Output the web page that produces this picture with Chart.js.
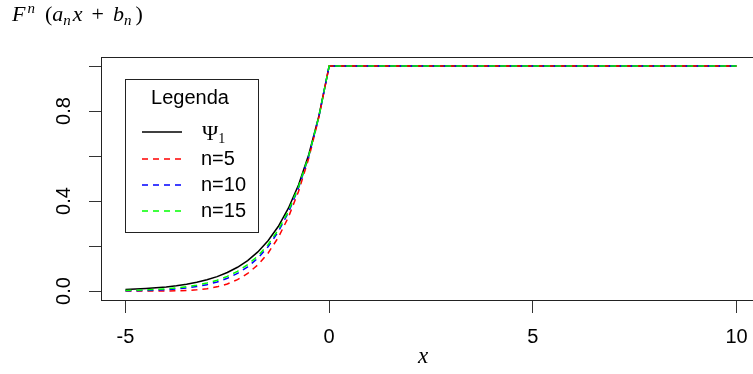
<!DOCTYPE html>
<html>
<head>
<meta charset="utf-8">
<script src="https://cdn.jsdelivr.net/npm/chart.js@4/dist/chart.umd.min.js"></script>
<style>
  html, body { margin: 0; padding: 0; background: #fff; overflow: hidden; }
  #wrap { width: 780px; height: 374px; }
</style>
</head>
<body>
<div id="wrap"><canvas id="c" width="780" height="374"></canvas></div>
<script>
// x positions of the curves
const xs = [-5, -4.75, -4.5, -4.25, -4, -3.75, -3.5, -3.25, -3, -2.75, -2.5,
            -2.25, -2, -1.75, -1.5, -1.25, -1, -0.75, -0.5, -0.25, 0, 10];

const psi1 = [0.0067, 0.0087, 0.0111, 0.0143, 0.0183, 0.0235, 0.0302, 0.0388, 0.0498, 0.0639, 0.0821,
              0.1054, 0.1353, 0.1738, 0.2231, 0.2865, 0.3679, 0.4724, 0.6065, 0.7788, 1, 1];
const n5 = [0, 0, 0.00001, 0.00008, 0.00032, 0.00098, 0.00243, 0.00525, 0.01024, 0.01845, 0.03125,
            0.05033, 0.07776, 0.11603, 0.16807, 0.23731, 0.32768, 0.44371, 0.59049, 0.77378, 1, 1];
const n10 = [0.00098, 0.00159, 0.00253, 0.00395, 0.00605, 0.0091, 0.01346, 0.01964, 0.02825, 0.04012, 0.05631,
             0.07817, 0.10737, 0.14606, 0.19687, 0.26308, 0.34868, 0.45858, 0.59874, 0.77631, 1, 1];
const n15 = [0.00228, 0.00331, 0.00475, 0.00676, 0.00954, 0.01336, 0.01859, 0.02566, 0.03518, 0.04794, 0.06491,
             0.08735, 0.11687, 0.15555, 0.20589, 0.27113, 0.35525, 0.4633, 0.60139, 0.77721, 1, 1];

const xTicks = [-5, 0, 5, 10];
const yTicks = [0, 0.2, 0.4, 0.6, 0.8, 1.0];
const yTickLabels = ['0.0', '', '0.4', '', '0.8', ''];

const seriesNames = ['n=5', 'n=10', 'n=15'];
const seriesColors = ['#ff0000', '#0000ff', '#00ff00'];

const DASH = [6, 5];
const SANS = '"Liberation Sans", Arial, sans-serif';
const SERIF = '"Liberation Serif", "DejaVu Serif", serif';

function pts(ys) {
    return xs.map((x, i) => ({ x: x, y: ys[i] }));
}

// box around plot area, legend, math labels
const extrasPlugin = {
    id: 'extras',
    afterDraw(chart) {
        const ctx = chart.ctx;
        const a = chart.chartArea;
        ctx.save();
        ctx.strokeStyle = '#222';
        ctx.lineWidth = 1;
        ctx.strokeRect(a.left + 0.5, a.top + 0.5, a.right - a.left, a.bottom - a.top);

        // legend
        const lx = 125, ly = 79, lw = 133, lh = 153;
        ctx.fillStyle = '#fff';
        ctx.fillRect(lx, ly, lw, lh);
        ctx.strokeStyle = '#222';
        ctx.strokeRect(lx + 0.5, ly + 0.5, lw, lh);
        ctx.fillStyle = '#000';
        ctx.font = '20px ' + SANS;
        ctx.textAlign = 'center';
        ctx.textBaseline = 'middle';
        ctx.fillText('Legenda', 190, 98);

        const rows = [132, 159, 185, 211];
        const colors = ['#000000'].concat(seriesColors);
        rows.forEach((y, i) => {
            ctx.beginPath();
            ctx.strokeStyle = colors[i];
            ctx.lineWidth = 1.4;
            ctx.setLineDash(i === 0 ? [] : DASH);
            ctx.moveTo(142, y);
            ctx.lineTo(182, y);
            ctx.stroke();
        });
        ctx.setLineDash([]);
        ctx.textAlign = 'left';
        ctx.fillStyle = '#000';
        ctx.textBaseline = 'alphabetic';
        ctx.font = '22px ' + SERIF;
        ctx.fillText('\u03A8', 202, 140);
        let w = ctx.measureText('\u03A8').width;
        ctx.font = '14px ' + SERIF;
        ctx.fillText('1', 202 + w, 143);
        ctx.font = '20px ' + SANS;
        ctx.textBaseline = 'middle';
        seriesNames.forEach((s, i) => ctx.fillText(s, 201, rows[i + 1]));

        // title F^n (a_n x + b_n)
        ctx.textBaseline = 'alphabetic';
        let x = 12;
        const base = 21;
        const put = (t, style, size, dy, gap) => {
            ctx.font = style + ' ' + size + 'px ' + SERIF;
            ctx.fillText(t, x, base + dy);
            x += ctx.measureText(t).width + (gap || 0);
        };
        put('F', 'italic', 22, 0, 2);
        put('n', 'italic', 15, -8, 10);
        put('(', 'normal', 22, 0, 0);
        put('a', 'italic', 22, 0, 0);
        put('n', 'italic', 15, 4, 2);
        put('x', 'italic', 22, 0, 9);
        put('+', 'normal', 22, 0, 9);
        put('b', 'italic', 22, 0, 0);
        put('n', 'italic', 15, 4, 4);
        put(')', 'normal', 22, 0, 0);

        // x axis label
        ctx.font = 'italic 23px ' + SERIF;
        ctx.textAlign = 'center';
        ctx.fillText('x', 423, 363);
        ctx.restore();
    }
};

new Chart(document.getElementById('c'), {
    type: 'line',
    data: {
        datasets: [
            { label: '\u03A81', data: pts(psi1), borderColor: '#000000', order: 4 },
            { label: seriesNames[0], data: pts(n5), borderColor: seriesColors[0], borderDash: DASH, order: 3 },
            { label: seriesNames[1], data: pts(n10), borderColor: seriesColors[1], borderDash: DASH, order: 2 },
            { label: seriesNames[2], data: pts(n15), borderColor: seriesColors[2], borderDash: DASH, order: 1 }
        ]
    },
    options: {
        responsive: false,
        animation: false,
        devicePixelRatio: 1,
        layout: { padding: { top: 57, right: 19, bottom: 0, left: 0 } },
        elements: {
            point: { radius: 0 },
            line: { borderWidth: 1.5, tension: 0, fill: false }
        },
        plugins: {
            legend: { display: false },
            tooltip: { enabled: false }
        },
        scales: {
            x: {
                type: 'linear',
                min: -5.6,
                max: 10.6,
                afterBuildTicks: s => { s.ticks = xTicks.map(v => ({ value: v })); },
                afterFit: s => { s.height = 74; },
                border: { display: false },
                grid: { drawOnChartArea: false, drawTicks: true, tickLength: 13, color: '#333' },
                ticks: {
                    color: '#000',
                    font: { family: SANS, size: 20 },
                    padding: 12,
                    maxRotation: 0,
                    callback: v => String(v)
                }
            },
            y: {
                type: 'linear',
                min: -0.04,
                max: 1.04,
                afterBuildTicks: s => { s.ticks = yTicks.map(v => ({ value: v })); },
                afterFit: s => { s.width = 101; },
                border: { display: false },
                grid: { drawOnChartArea: false, drawTicks: true, tickLength: 12, color: '#333' },
                ticks: {
                    color: '#000',
                    font: { family: SANS, size: 20 },
                    padding: 11,
                    minRotation: 90,
                    maxRotation: 90,
                    crossAlign: 'center',
                    callback: (v, i) => yTickLabels[i]
                }
            }
        }
    },
    plugins: [extrasPlugin]
});
</script>
</body>
</html>
